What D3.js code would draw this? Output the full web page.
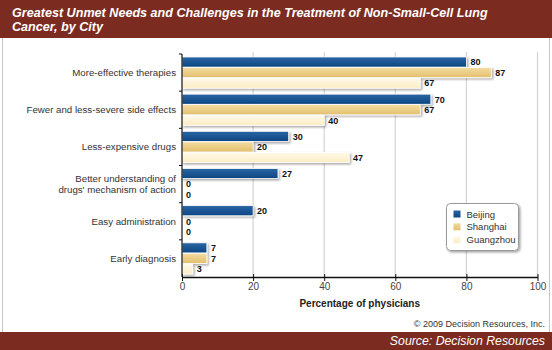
<!DOCTYPE html>
<html>
<head>
<meta charset="utf-8">
<script src="https://cdn.jsdelivr.net/npm/d3@7"></script>
<style>
  body { margin: 0; background: #fff; }
  svg { display: block; font-family: Arial, "Liberation Sans", sans-serif; }
</style>
</head>
<body>
<svg id="chart"></svg>
<script>
// data
const categories = [
  'More-effective therapies',
  'Fewer and less-severe side effects',
  'Less-expensive drugs',
  "Better understanding of|drugs' mechanism of action",
  'Easy administration',
  'Early diagnosis'
];
const cities = ['Beijing', 'Shanghai', 'Guangzhou'];
const beijing = [80, 70, 30, 27, 20, 7];
const shanghai = [87, 67, 20, 0, 0, 7];
const guangzhou = [67, 40, 47, 0, 0, 3];
const xTicks = [0, 20, 40, 60, 80, 100];

const W = 552, H = 350;
const margin = {top: 54, right: 15, bottom: 73, left: 182};
const width = 537.5 - margin.left;
const height = 277 - margin.top;

const svg = d3.select('#chart').attr('width', W).attr('height', H);

// gradients for bars
const defs = svg.append('defs');
const grads = [
  {id: 'g0', top: '#2a65a4', bot: '#0c4682'},
  {id: 'g1', top: '#f3dca0', bot: '#e2bf6c'},
  {id: 'g2', top: '#fffaea', bot: '#fbecc4'}
];
grads.forEach(g => {
  const lg = defs.append('linearGradient').attr('id', g.id)
      .attr('x1', 0).attr('y1', 0).attr('x2', 0).attr('y2', 1);
  lg.append('stop').attr('offset', '0%').attr('stop-color', g.top);
  lg.append('stop').attr('offset', '100%').attr('stop-color', g.bot);
});
const shadow = defs.append('filter').attr('id', 'shadow')
    .attr('x', '-20%').attr('y', '-20%').attr('width', '150%').attr('height', '150%');
shadow.append('feDropShadow').attr('dx', 1.5).attr('dy', 1.5).attr('stdDeviation', 1)
    .attr('flood-color', '#000').attr('flood-opacity', 0.35);

// frame
svg.append('rect').attr('x', 2.5).attr('y', 0.5).attr('width', W - 5).attr('height', H - 1)
    .attr('fill', '#fff').attr('stroke', '#c8c8c8');

// title bar
svg.append('rect').attr('x', 0).attr('y', 0).attr('width', W).attr('height', 38).attr('fill', '#7b2b20');
const title = svg.append('text').attr('x', 12).attr('y', 17)
    .attr('fill', '#fff').attr('font-size', 12.6).attr('font-weight', 'bold').attr('font-style', 'italic');
title.append('tspan').attr('x', 12).text('Greatest Unmet Needs and Challenges in the Treatment of Non-Small-Cell Lung');
title.append('tspan').attr('x', 12).attr('dy', 14).text('Cancer, by City');

// footer
svg.append('text').attr('x', 545).attr('y', 327).attr('text-anchor', 'end')
    .attr('font-size', 9).attr('fill', '#333').text('\u00a9 2009 Decision Resources, Inc.');
svg.append('rect').attr('x', 0).attr('y', 332).attr('width', W).attr('height', 18).attr('fill', '#7b2b20');
svg.append('text').attr('x', 545).attr('y', 345).attr('text-anchor', 'end')
    .attr('font-size', 12.3).attr('font-style', 'italic').attr('fill', '#fff').text('Source: Decision Resources');

const chart = svg.append('g').attr('transform', `translate(${margin.left},${margin.top})`);

const xScale = d3.scaleLinear().domain([0, 100]).range([0, width]);
const yScale = d3.scaleBand().domain(categories).range([0, height]).paddingInner(0.16).paddingOuter(0.08);
const subScale = d3.scaleBand().domain(cities).range([0, yScale.bandwidth()]).paddingInner(0.04);

// gridlines
chart.append('g').selectAll('line').data(xTicks.slice(1)).join('line')
    .attr('x1', d => xScale(d)).attr('x2', d => xScale(d))
    .attr('y1', -2).attr('y2', height)
    .attr('stroke', '#d4d4d4').attr('stroke-width', 1.2);

// bars
const series = [beijing, shanghai, guangzhou];
const barG = chart.append('g');
series.forEach((vals, si) => {
  barG.selectAll(null).data(vals).join('rect')
      .attr('x', 0)
      .attr('y', (d, i) => yScale(categories[i]) + subScale(cities[si]))
      .attr('width', d => xScale(d))
      .attr('height', subScale.bandwidth())
      .attr('fill', `url(#g${si})`)
      .attr('stroke', '#fff').attr('stroke-width', 0.8)
      .attr('filter', 'url(#shadow)');
  barG.selectAll(null).data(vals).join('text')
      .attr('x', d => xScale(d) + 4)
      .attr('y', (d, i) => yScale(categories[i]) + subScale(cities[si]) + subScale.bandwidth() / 2 + 3.3)
      .attr('font-size', 9).attr('font-weight', 'bold').attr('fill', '#111')
      .text(d => d);
});

// y axis with ticks at category boundaries
chart.append('line').attr('x1', 0).attr('x2', 0).attr('y1', 0).attr('y2', height)
    .attr('stroke', '#111').attr('stroke-width', 1.2);
const bounds = d3.range(categories.length).map(i => i * height / categories.length);
chart.append('g').selectAll('line').data(bounds).join('line')
    .attr('x1', -3).attr('x2', 0).attr('y1', d => d).attr('y2', d => d)
    .attr('stroke', '#111');

// category labels
const catG = chart.append('g');
categories.forEach((c, i) => {
  const lines = c.split('|');
  const cy = yScale(c) + yScale.bandwidth() / 2;
  const t = catG.append('text').attr('text-anchor', 'end').attr('font-size', 9.7).attr('fill', '#333');
  lines.forEach((ln, j) => {
    t.append('tspan').attr('x', -6)
        .attr('y', cy + 3.5 + (j - (lines.length - 1) / 2) * 11)
        .text(ln);
  });
});

// x axis
const xAxis = d3.axisBottom(xScale).tickValues(xTicks).tickSize(4).tickSizeOuter(0);
const xAxisG = chart.append('g').attr('transform', `translate(0,${height})`).call(xAxis);
xAxisG.select('.domain').attr('stroke', '#111').attr('stroke-width', 1.4);
xAxisG.selectAll('.tick line').attr('stroke', '#111').attr('y1', -3);
xAxisG.selectAll('.tick text').attr('font-size', 10).attr('fill', '#444').attr('dy', '0.55em')
    .attr('font-family', 'Arial, "Liberation Sans", sans-serif');

chart.append('text').attr('x', width / 2).attr('y', height + 30).attr('text-anchor', 'middle')
    .attr('font-size', 10).attr('font-weight', 'bold').attr('fill', '#222').text('Percentage of physicians');

// legend
const lg = svg.append('g').attr('transform', 'translate(446.5,203.5)');
lg.append('rect').attr('width', 72).attr('height', 47).attr('rx', 4)
    .attr('fill', '#fff').attr('stroke', '#9a9a9a').attr('filter', 'url(#shadow)');
cities.forEach((c, i) => {
  lg.append('rect').attr('x', 7).attr('y', 7 + i * 12.8).attr('width', 7).attr('height', 7)
      .attr('fill', `url(#g${i})`);
  lg.append('text').attr('x', 20).attr('y', 14 + i * 12.8).attr('font-size', 9.5).attr('fill', '#333').text(c);
});
</script>
</body>
</html>
